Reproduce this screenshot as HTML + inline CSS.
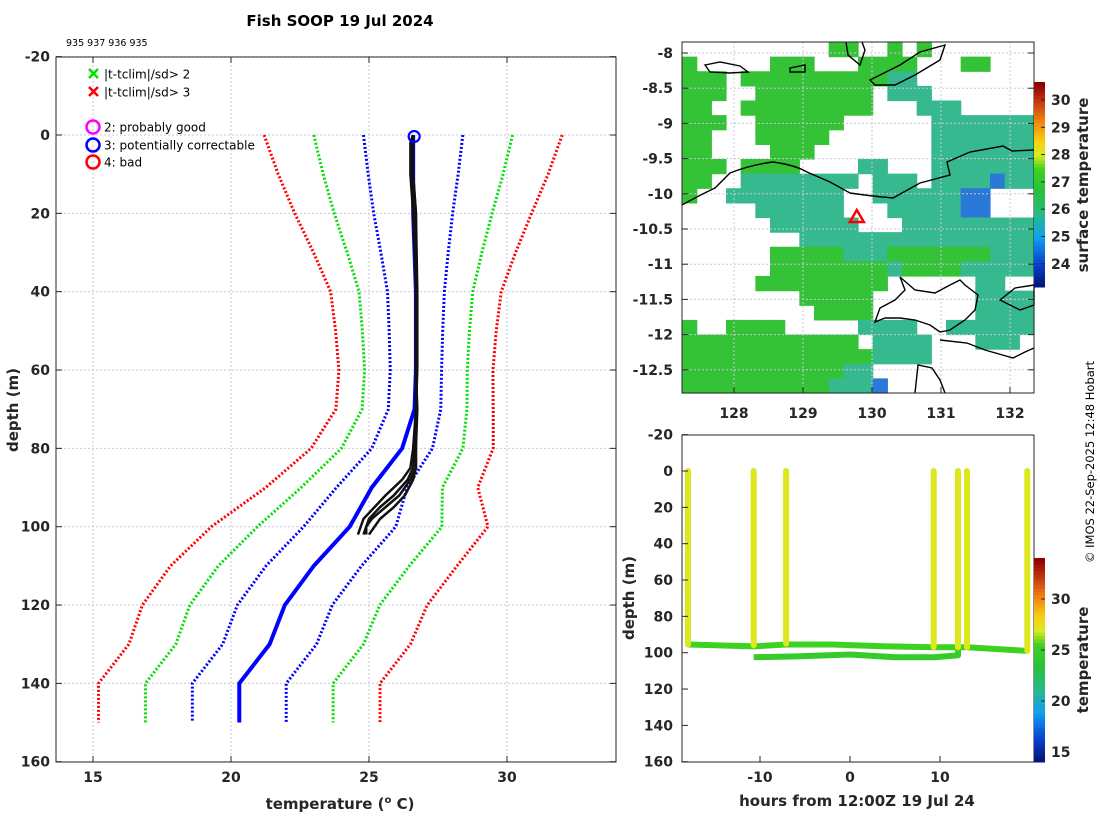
<!DOCTYPE html>
<html><head><meta charset="utf-8"><style>
body{margin:0;background:#fff;}
svg{display:block;font-family:"DejaVu Sans","Liberation Sans",sans-serif;}
.tk{font-size:14px;font-weight:bold;fill:#262626;}
.lb{font-size:15px;font-weight:bold;fill:#262626;}
</style></head><body>
<svg id="s" width="1100" height="820" viewBox="0 0 1100 820">
<rect width="1100" height="820" fill="#fff"/>
<text x="340" y="26" text-anchor="middle" style="font-size:15px;font-weight:bold">Fish SOOP 19 Jul 2024</text>
<text x="66" y="46" style="font-size:9.5px">935 937 936 935</text>
<g id="left"></g>
<g id="map"></g>
<g id="br"></g>
<text transform="translate(1094,462) rotate(-90)" text-anchor="middle" style="font-size:11.5px">© IMOS 22-Sep-2025 12:48 Hobart</text>
</svg>
<script>
// ---- profile chart data ----
const climDepths=[0,10,20,30,40,50,60,70,80,90,100,110,120,130,140,150];
const climMean=[26.6,26.6,26.6,26.65,26.7,26.7,26.7,26.65,26.2,25.1,24.3,23.0,21.95,21.4,20.3,20.3];
const climSd=[1.8,1.63,1.43,1.22,1.03,0.97,0.93,0.95,1.1,1.28,1.67,1.73,1.72,1.7,1.7,1.7];
const obsDepths=[0,2,10,20,40,60,70,80,85,88,92,95,98,100,102];
const obs1=[26.6,26.6,26.6,26.7,26.75,26.75,26.7,26.6,26.5,26.2,25.6,25.2,24.8,24.7,24.6];
const obs2=[26.6,26.5,26.5,26.6,26.7,26.7,26.7,26.65,26.6,26.4,25.9,25.4,25.0,24.9,24.9];
const obs3=[26.6,26.6,26.6,26.7,26.7,26.7,26.75,26.7,26.7,26.5,26.1,25.6,25.1,24.9,24.8];
const obs4=[26.6,26.6,26.55,26.65,26.7,26.7,26.7,26.7,26.7,26.6,26.3,25.9,25.4,25.2,25.0];
const tTicks=[15,20,25,30];
const dTicks=[-20,0,20,40,60,80,100,120,140,160];
// ---- map data ----
const lonTicks=[128,129,130,131,132];
const latTicks=[-8,-8.5,-9,-9.5,-10,-10.5,-11,-11.5,-12,-12.5];
const sstRows=[
"..........gg..g.g.......",
"g.....ggg...gggg...gg...",
"ggg.ggggggggggtt........",
"ggg..gggggggg.ttt.......",
"gg..ggggggggg...ttt.....",
"ggg..gggggg......ttttttt",
"gg...ggggg.......ttttttt",
"gg....ggg........ttttttt",
"ggg.gggg....tt...ttttttt",
"gg..tttttttt.ttt.ttttbtt",
"g..tttttttt..ttttttbb...",
".....tttttt...tttttbb...",
"......tttttt...ttttttttt",
"........tttttttttttttttt",
"......gggggtttgggggggttt",
"......ggggggggtggggttttt",
".....ggggggggg......tt..",
"........ggggg.......tttt",
".........gggg.......tttt",
"g..gggg.....tttt..tttttt",
"gggggggggggg.tttt...ttt.",
"gggggggggggggtttt.......",
"gggggggggggtt...........",
"ggggggggggtttb.........."];
const sstVal={g:27,t:26,b:24.8};
const shipLon=129.78, shipLat=-10.33;
const sstCbTicks=[24,25,26,27,28,29,30];
// ---- depth-time data ----
const profTimes=[-18,-10.7,-7.1,9.3,12,13,19.7];
const profBottom=[95.5,96,95,97,97,97,99];
const profTemp=[27.2,27.2,27.2,27.2,27.2,27.2,27.2];
const upperTimes=[-18,-10.7,-7.1,-2,4,9.3,13,19.7];
const upperDepths=[95.5,96.5,95.5,95.5,96.5,97,97,99];
const lowerTimes=[-10.7,-6,0,5,9.3,12];
const lowerDepths=[102.5,102,101,102.5,102.5,101.5];
const htTicks=[-10,0,10];
const dtTicks=[-20,0,20,40,60,80,100,120,140,160];
const cbTicks2=[15,20,25,30];

const NS='http://www.w3.org/2000/svg';
function mk(p,t,a,txt){const e=document.createElementNS(NS,t);for(const k in a)e.setAttribute(k,a[k]);if(txt!==undefined)e.textContent=txt;p.appendChild(e);return e;}
const stops=[[0,[0,16,110]],[.12,[10,64,208]],[.25,[16,160,240]],[.36,[40,185,140]],[.47,[40,192,60]],[.58,[60,210,32]],[.65,[215,235,32]],[.72,[248,208,16]],[.82,[240,128,16]],[.92,[192,48,16]],[1,[140,0,0]]];
function cmap(f){f=Math.max(0,Math.min(1,f));for(let i=1;i<stops.length;i++){if(f<=stops[i][0]){const a=stops[i-1],b=stops[i];const u=(f-a[0])/(b[0]-a[0]);const c=a[1].map((v,j)=>Math.round(v+(b[1][j]-v)*u));return `rgb(${c})`;}}return 'rgb(140,0,0)';}

// ===== LEFT PROFILE CHART =====
const L=document.getElementById('left');
const xT=t=>93+(t-15)*27.6, yD=d=>135+d*3.917;
for(const t of tTicks){mk(L,'line',{x1:xT(t),x2:xT(t),y1:57,y2:762,stroke:'#c8c8dc','stroke-dasharray':'2,2','stroke-width':1});}
for(const d of dTicks){mk(L,'line',{x1:56,x2:616,y1:yD(d),y2:yD(d),stroke:'#c8c8dc','stroke-dasharray':'2,2','stroke-width':1});}
const clim=[[-3,'#ff0000'],[-2,'#00e000'],[-1,'#0000ff'],[1,'#0000ff'],[2,'#00e000'],[3,'#ff0000']];
for(const [k,c] of clim){
 const pts=climDepths.map((d,i)=>xT(climMean[i]+k*climSd[i])+','+yD(d)).join(' ');
 const e=mk(L,'polyline',{points:pts,fill:'none',stroke:c,'stroke-width':3,'stroke-dasharray':'2,2'});
 
 
}
{const pts=climDepths.map((d,i)=>xT(climMean[i])+','+yD(d)).join(' ');
 const e=mk(L,'polyline',{points:pts,fill:'none',stroke:'#0000ff','stroke-width':4});
 
 }
for(const o of [obs1,obs2,obs3,obs4]){
 const pts=obsDepths.map((d,i)=>xT(o[i])+','+yD(d)).join(' ');
 const e=mk(L,'polyline',{points:pts,fill:'none',stroke:'#111','stroke-width':2.5,'stroke-linejoin':'round'});
 
 
}
for(const o of [obs1,obs3]){const e=mk(L,'circle',{cx:xT(o[0])+1,cy:yD(0)+1.5,r:5.5,fill:'none',stroke:'#0000ff','stroke-width':2});
 
 }
mk(L,'rect',{x:56,y:57,width:560,height:705,fill:'none',stroke:'#262626','stroke-width':1});
for(const t of tTicks){mk(L,'line',{x1:xT(t),x2:xT(t),y1:762,y2:756,stroke:'#262626'});mk(L,'line',{x1:xT(t),x2:xT(t),y1:57,y2:63,stroke:'#262626'});
 const e=mk(L,'text',{x:xT(t),y:782,'text-anchor':'middle',class:'tk'},t);}
for(const d of dTicks){mk(L,'line',{x1:56,x2:62,y1:yD(d),y2:yD(d),stroke:'#262626'});mk(L,'line',{x1:610,x2:616,y1:yD(d),y2:yD(d),stroke:'#262626'});
 const e=mk(L,'text',{x:50,y:yD(d)+5,'text-anchor':'end',class:'tk'},d);}
{const e=mk(L,'text',{x:340,y:809,'text-anchor':'middle',class:'lb'});e.innerHTML='temperature (<tspan dy="-6" style="font-size:10px">o</tspan><tspan dy="6"> C)</tspan>';}
{const e=mk(L,'text',{transform:'translate(18,410) rotate(-90)','text-anchor':'middle',class:'lb'},'depth (m)');}
// legend
const lg=mk(L,'g',{});
const lgItems=[['x','#00e000','|t-tclim|/sd> 2',74],['x','#ff0000','|t-tclim|/sd> 3',92],['o','#ff00ff','2: probably good',127],['o','#0000ff','3: potentially correctable',145],['o','#ff0000','4: bad',162]];
for(const [m,c,t,y] of lgItems){
 if(m==='x'){mk(lg,'path',{d:`M89 ${y-5}l9 9M98 ${y-5}l-9 9`,stroke:c,'stroke-width':2.5});}
 else mk(lg,'circle',{cx:93,cy:y,r:6.5,fill:'none',stroke:c,'stroke-width':2.5});
 const e=mk(lg,'text',{x:104,y:y+4.5,style:'font-size:12px'},t);
}

// ===== MAP =====
const M=document.getElementById('map');
const xL=l=>734+(l-128)*69, yL=a=>53+(-8-a)*70.4;
const cw=352/24, ch=351/24;
const cellCol={g:'#34c236',t:'#36b98e',b:'#2a78d8'};
sstRows.forEach((row,r)=>{[...row].forEach((c,i)=>{if(c==='.')return;
 const v=sstVal[c];
 mk(M,'rect',{x:682+i*cw,y:42+r*ch,width:cw+0.6,height:ch+0.6,fill:v>=27?cellCol.g:(v>=26?cellCol.t:cellCol.b)});});});
for(const l of lonTicks)mk(M,'line',{x1:xL(l),x2:xL(l),y1:42,y2:393,stroke:'#c8c8dc','stroke-dasharray':'2,2'});
for(const a of latTicks)mk(M,'line',{x1:682,x2:1034,y1:yL(a),y2:yL(a),stroke:'#c8c8dc','stroke-dasharray':'2,2'});
const coast=[
"M682 205 Q700 195 715 188 L730 173 Q750 165 773 162 Q795 165 807 172 L830 182 L850 193 Q870 196 893 198 L920 183 L950 175 L947 162 L970 152 L1003 146 L1012 151 L1034 150",
"M900 277 L915 290 L935 293 L950 285 L960 280 L965 285 L978 295 L975 310 L965 320 L950 330 L940 332 L930 325 L915 320 L900 318 L885 318 L875 322 L880 308 L895 300 L905 290 Z",
"M940 340 L967 343 L985 350 L1013 358 L1025 352 L1034 348",
"M915 393 L918 365 L932 368 L940 380 L945 393",
"M870 80 L900 65 L920 52 L945 45 L940 60 L915 75 L895 85 L875 85 Z",
"M705 65 L720 62 L740 66 L748 72 L730 73 L710 72 Z",
"M790 68 L805 65 L805 72 L790 72 Z",
"M846 42 L848 55 L860 65 L865 50 L862 42",
"M1000 300 L1015 288 L1034 285 L1034 305 L1020 310 Z"];
for(const d of coast){const e=mk(M,'path',{d,fill:'none',stroke:'#000','stroke-width':1.4});}
{const x=xL(shipLon),y=yL(shipLat);const e=mk(M,'path',{d:`M${x} ${y-7}L${x+7} ${y+5}L${x-7} ${y+5}Z`,fill:'none',stroke:'#ff0000','stroke-width':2.5});}
mk(M,'rect',{x:682,y:42,width:352,height:351,fill:'none',stroke:'#262626'});
for(const l of lonTicks){mk(M,'line',{x1:xL(l),x2:xL(l),y1:393,y2:387,stroke:'#262626'});
 const e=mk(M,'text',{x:xL(l),y:418,'text-anchor':'middle',class:'tk'},l);}
for(const a of latTicks){mk(M,'line',{x1:682,x2:688,y1:yL(a),y2:yL(a),stroke:'#262626'});mk(M,'line',{x1:1028,x2:1034,y1:yL(a),y2:yL(a),stroke:'#262626'});
 const e=mk(M,'text',{x:673,y:yL(a)+5,'text-anchor':'end',class:'tk'},a);}
// map colorbar
const cb1=mk(M,'g',{});
for(let i=0;i<60;i++){mk(cb1,'rect',{x:1034,y:82+i*205/60,width:11,height:205/60+0.5,fill:cmap(1-i/60)});}
const yC1=v=>100+(30-v)*27.3;
for(const v of sstCbTicks){mk(cb1,'line',{x1:1045,x2:1041,y1:yC1(v),y2:yC1(v),stroke:'#262626'});
 const e=mk(cb1,'text',{x:1051,y:yC1(v)+5,class:'tk'},v);}
{const e=mk(M,'text',{transform:'translate(1088,185) rotate(-90)','text-anchor':'middle',class:'lb'},'surface temperature');}

// ===== DEPTH-TIME CHART =====
const B=document.getElementById('br');
const xH=h=>850+h*9, yB=d=>471+d*1.817;
const tc=v=>cmap((v-14)/20);
{const e=mk(B,'polyline',{points:lowerTimes.map((h,i)=>xH(h)+','+yB(lowerDepths[i])).join(' ')+' '+xH(lowerTimes[lowerTimes.length-1])+','+yB(97),fill:'none',stroke:tc(24.8),'stroke-width':6,'stroke-linejoin':'round'});}
{const e=mk(B,'polyline',{points:upperTimes.map((h,i)=>xH(h)+','+yB(upperDepths[i])).join(' '),fill:'none',stroke:tc(25.6),'stroke-width':6,'stroke-linejoin':'round'});}
profTimes.forEach((h,i)=>{const e=mk(B,'line',{x1:xH(h),x2:xH(h),y1:yB(0),y2:yB(profBottom[i]),stroke:tc(profTemp[i]),'stroke-width':6,'stroke-linecap':'round'});
 
 });
mk(B,'rect',{x:682,y:435,width:352,height:327,fill:'none',stroke:'#262626'});
for(const h of htTicks){mk(B,'line',{x1:xH(h),x2:xH(h),y1:762,y2:756,stroke:'#262626'});
 const e=mk(B,'text',{x:xH(h),y:782,'text-anchor':'middle',class:'tk'},h);}
for(const d of dtTicks){mk(B,'line',{x1:682,x2:688,y1:yB(d),y2:yB(d),stroke:'#262626'});
 const e=mk(B,'text',{x:673,y:yB(d)+5,'text-anchor':'end',class:'tk'},d);}
{const e=mk(B,'text',{x:857,y:806,'text-anchor':'middle',class:'lb'},'hours from 12:00Z 19 Jul 24');}
{const e=mk(B,'text',{transform:'translate(634,598) rotate(-90)','text-anchor':'middle',class:'lb'},'depth (m)');}
const cb2=mk(B,'g',{});
for(let i=0;i<60;i++){mk(cb2,'rect',{x:1034,y:558+i*204/60,width:11,height:204/60+0.5,fill:cmap(1-i/60)});}
const yC2=v=>650-(v-25)*10.2;
for(const v of cbTicks2){mk(cb2,'line',{x1:1045,x2:1041,y1:yC2(v),y2:yC2(v),stroke:'#262626'});
 const e=mk(cb2,'text',{x:1051,y:yC2(v)+5,class:'tk'},v);}
{const e=mk(B,'text',{transform:'translate(1088,660) rotate(-90)','text-anchor':'middle',class:'lb'},'temperature');}
</script>
</body></html>
